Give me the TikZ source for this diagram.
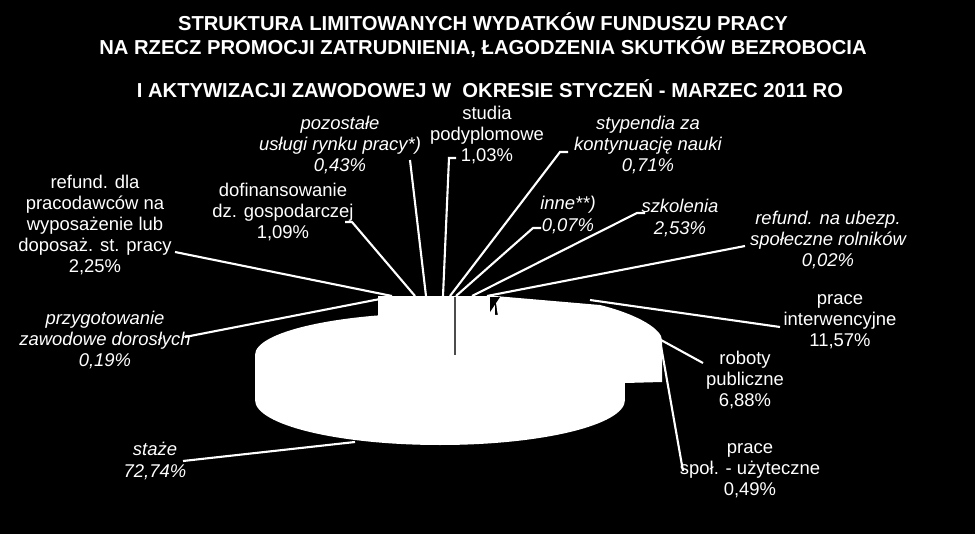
\documentclass[tikz,border=0pt]{standalone}
\usepackage{fontspec}
\setmainfont{Liberation Sans}
\begin{document}
\begin{tikzpicture}[x=0.02cm,y=-0.02cm,
 lab/.style={text=white,font=\fontsize{10.5}{12}\selectfont,align=center,inner sep=1pt},
 ilab/.style={lab,font=\fontsize{10.5}{12}\selectfont\itshape},
 ldr/.style={draw=white,line width=1.2pt}]
\fill[black] (0,0) rectangle (975,534);
\useasboundingbox (0,0) rectangle (975,534);
\node[text=white,font=\bfseries\fontsize{11.5}{14}\selectfont,align=center] (t1) at (483,35) {STRUKTURA LIMITOWANYCH WYDATKÓW FUNDUSZU PRACY\\NA RZECZ PROMOCJI ZATRUDNIENIA, ŁAGODZENIA SKUTKÓW BEZROBOCIA};
\node[text=white,font=\bfseries\fontsize{11.5}{14}\selectfont] (t2) at (490,89) {I AKTYWIZACJI ZAWODOWEJ W\ \ OKRESIE STYCZEŃ - MARZEC 2011 RO};
% pie
\fill[white] (378,296) rectangle (495,345);
\fill[white] (495,296) -- (600,305) .. controls (640,315) and (662,330) .. (662,340) -- (662,382) -- (625,383) -- (625,360) -- (500,330) -- cycle;
\fill[white] (440,400) ellipse [x radius=185, y radius=45];
\fill[white] (255,355) rectangle (625,400);
\fill[white] (440,355) ellipse [x radius=185, y radius=42];
\fill[black] (490,297) -- (500,297) -- (490,312) -- cycle;
\draw[gray!60!black,line width=1pt] (455,297) -- (455,355);
\coordinate (p0) at (355,442);
\coordinate (p1) at (380,299);
\coordinate (p2) at (392,296);
\coordinate (p3) at (415,296);
\coordinate (p4) at (426,296);
\coordinate (p5) at (443,296);
\coordinate (p6) at (450,296);
\coordinate (p7) at (456,296);
\coordinate (p8) at (472,296);
\coordinate (p9) at (487,296);
\coordinate (p10) at (590,300);
\coordinate (p11) at (661,340);
\coordinate (p12) at (661,346);
% labels
\node[ilab] (l0) at (155,461) {staże\\72,74\%};
\node[ilab] (l1) at (105,340) {przygotowanie\\zawodowe dorosłych\\0,19\%};
\node[lab] (l2) at (95,225) {refund. dla\\pracodawców na\\wyposażenie lub\\doposaż. st. pracy\\2,25\%};
\node[lab] (l3) at (283,212) {dofinansowanie\\dz. gospodarczej\\1,09\%};
\node[ilab] (l4) at (340,145) {pozostałe\\usługi rynku pracy*)\\0,43\%};
\node[lab] (l5) at (487,135) {studia\\podyplomowe\\1,03\%};
\node[ilab] (l6) at (648,145) {stypendia za\\kontynuację nauki\\0,71\%};
\node[ilab] (l7) at (568,215) {inne**)\\0,07\%};
\node[ilab] (l8) at (680,218) {szkolenia\\2,53\%};
\node[ilab] (l9) at (828,240) {refund. na ubezp.\\społeczne rolników\\0,02\%};
\node[lab] (l10) at (840,322) {prace\\interwencyjne\\11,57\%};
\node[lab] (l11) at (745,380) {roboty\\publiczne\\6,88\%};
\node[lab] (l12) at (750,471) {prace\\społ. - użyteczne\\0,49\%};
% leaders
\draw[ldr] (183,461) -- (p0);
\draw[ldr] (185,337) -- (p1);
\draw[ldr] (175,252) -- (p2);
\draw[ldr] (345,222) -- (352,222) -- (p3);
\draw[ldr] (410,160) -- (p4);
\draw[ldr] (456,158) -- (449,158) -- (p5);
\draw[ldr] (568,152) -- (560,152) -- (p6);
\draw[ldr] (541,228) -- (533,228) -- (p7);
\draw[ldr] (645,213) -- (637,213) -- (p8);
\draw[ldr] (745,246) -- (p9);
\draw[ldr] (780,327) -- (p10);
\draw[ldr] (703,363) -- (p11);
\draw[ldr] (683,471) -- (p12);
\end{tikzpicture}
\end{document}
